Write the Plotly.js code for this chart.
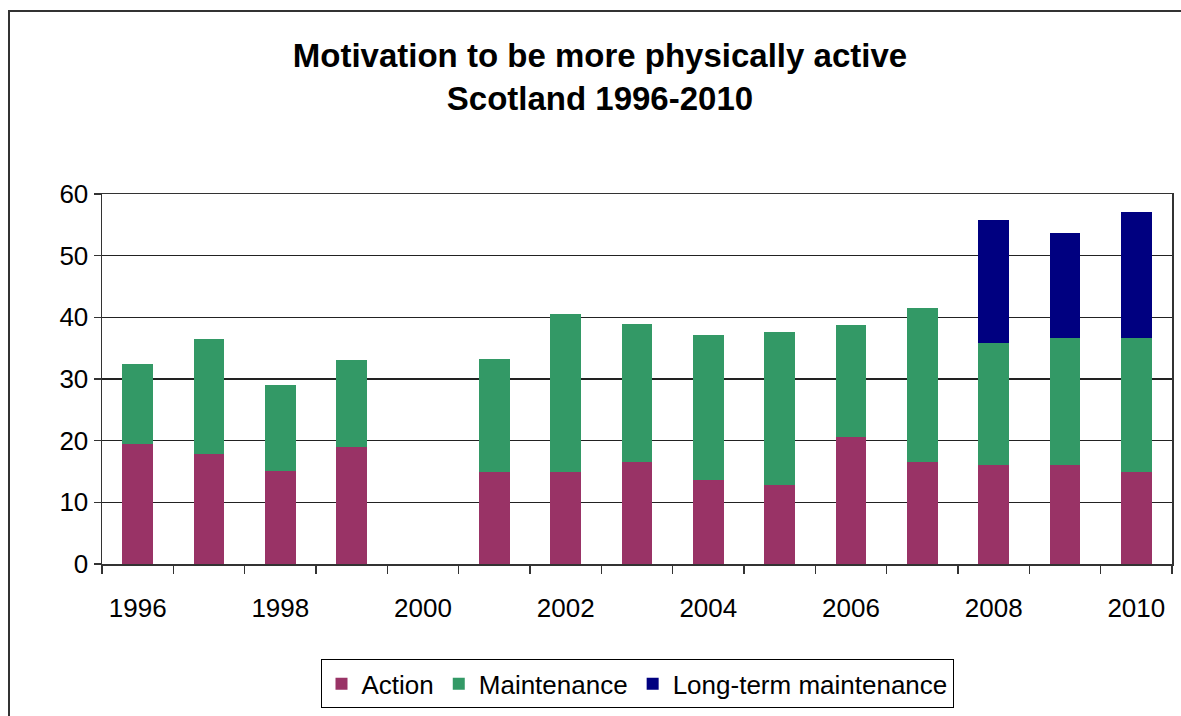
<!DOCTYPE html>
<html>
<head>
<meta charset="utf-8">
<script src="https://cdn.plot.ly/plotly-3.0.1.min.js"></script>
<style>
  html, body { margin: 0; padding: 0; background: #fff; overflow: hidden; }
  #frame { position: absolute; left: 8px; top: 10px; width: 1300px; height: 900px; border-left: 2px solid #333; border-top: 2px solid #333; }
  #chart { position: absolute; left: 0; top: 0; width: 1181px; height: 716px; }
</style>
</head>
<body>
<div id="frame"></div>
<div id="chart"></div>
<script>
const years = ['1996','1997','1998','1999','2000','2001','2002','2003','2004','2005','2006','2007','2008','2009','2010'];
const action = [19.4, 17.8, 15.1, 19.0, null, 14.9, 14.9, 16.5, 13.6, 12.8, 20.6, 16.5, 16.0, 16.0, 14.9];
const maintenance = [13.0, 18.7, 13.9, 14.1, null, 18.3, 25.7, 22.4, 23.6, 24.9, 18.2, 25.0, 19.9, 20.7, 21.8];
const longTerm = [null, null, null, null, null, null, null, null, null, null, null, null, 19.9, 17.0, 20.4];
const tickLabels = years.map((y, i) => (i % 2 === 0 ? y : ''));

const font = 'Arial, "Liberation Sans", sans-serif';

const traces = [
  { type: 'bar', name: 'Action', x: years, y: action, marker: { color: '#993366' } },
  { type: 'bar', name: 'Maintenance', x: years, y: maintenance, marker: { color: '#339966' } },
  { type: 'bar', name: 'Long-term maintenance', x: years, y: longTerm, marker: { color: '#000080' } }
];

const layout = {
  width: 1181, height: 716,
  paper_bgcolor: 'rgba(0,0,0,0)', plot_bgcolor: '#fff',
  margin: { l: 102, r: 9, t: 194, b: 152 },
  barmode: 'stack', bargap: 0.57,
  font: { family: font, color: '#000' },
  title: {
    text: '<b>Motivation to be more physically active<br>Scotland 1996-2010</b>',
    font: { family: font, size: 33, color: '#000' },
    xref: 'container', x: 0.508, xanchor: 'center',
    yref: 'container', y: 0.906, yanchor: 'top'
  },
  xaxis: {
    type: 'category',
    tickmode: 'array', tickvals: years, ticktext: tickLabels,
    tickson: 'boundaries',
    ticks: 'outside', ticklen: 8, tickwidth: 1.5, tickcolor: '#333',
    showline: true, linecolor: '#333', linewidth: 1.5, mirror: true,
    showgrid: false, zeroline: false,
    tickfont: { family: font, size: 26, color: '#000' },
    ticklabelstandoff: 20
  },
  yaxis: {
    range: [0, 60], dtick: 10, tick0: 0,
    ticks: 'outside', ticklen: 7, tickwidth: 1.5, tickcolor: '#333',
    showline: true, linecolor: '#333', linewidth: 1.5, mirror: true,
    showgrid: true, gridcolor: '#222', gridwidth: 1.5, zeroline: false,
    tickfont: { family: font, size: 26, color: '#000' }
  },
  showlegend: true,
  legend: {
    orientation: 'h', xref: 'paper', x: 0.5, xanchor: 'center',
    yref: 'container', y: 0.079, yanchor: 'top',
    bordercolor: '#000', borderwidth: 1, bgcolor: '#fff',
    font: { family: font, size: 26, color: '#000' },
    traceorder: 'normal', itemwidth: 30
  }
};

Plotly.newPlot('chart', traces, layout, { displayModeBar: false, staticPlot: true });
</script>
</body>
</html>
